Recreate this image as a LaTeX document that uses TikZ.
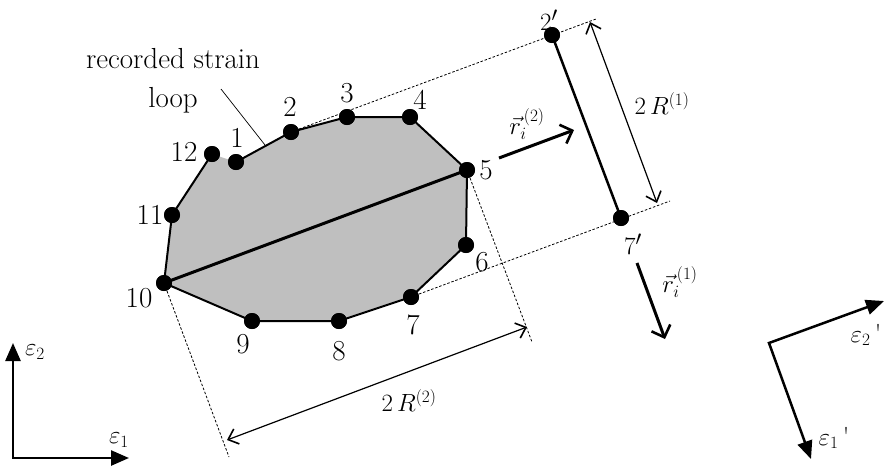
\documentclass[tikz,border=0pt]{standalone}
\usetikzlibrary{arrows.meta}
\begin{document}
\begin{tikzpicture}[x=1pt,y=-1pt,
  font=\fontsize{29}{39}\selectfont,
  dot/.style={circle,fill=black,inner sep=0pt,minimum size=16pt},
  lbl/.style={inner sep=0pt},
  outline/.style={line width=2pt,line join=round},
  guide/.style={line width=0.8pt,dash pattern=on 2.5pt off 1.8pt},
  dimline/.style={line width=1.2pt,{Straight Barb[length=9pt,width=16pt,line width=1.6pt]}-{Straight Barb[length=9pt,width=16pt,line width=1.6pt]}},
  vecarrow/.style={line width=3pt,-{Straight Barb[length=10pt,width=20pt,line width=2.6pt]}},
  axis/.style={line width=2.5pt,{Triangle[length=18pt,width=15pt]}-{Triangle[length=18pt,width=15pt]}}]
\path[use as bounding box] (0,0) rectangle (884,467);

% loop fill
\fill[black!25] (236,162) -- (291,132) -- (347,117) -- (410,117) -- (467,170) -- (466,245)
  -- (411,297) -- (339,321) -- (252,321) -- (164,283) -- (172,215) -- (212,154) -- cycle;

% dots
\node[dot] (p1) at (236,162) {};
\node[dot] (p2) at (291,132) {};
\node[dot] (p3) at (347,117) {};
\node[dot] (p4) at (410,117) {};
\node[dot] (p5) at (467,170) {};
\node[dot] (p6) at (466,245) {};
\node[dot] (p7) at (411,297) {};
\node[dot] (p8) at (339,321) {};
\node[dot] (p9) at (252,321) {};
\node[dot] (p10) at (164,283) {};
\node[dot] (p11) at (172,215) {};
\node[dot] (p12) at (212,154) {};
\node[dot] (q2) at (552,35) {};
\node[dot] (q7) at (621,218) {};

% guide lines
\coordinate (g2) at (596,19);
\coordinate (g7) at (670,201);
\coordinate (g5) at (532,342);
\coordinate (g10) at (229,457);
\draw[guide] (p2.center) -- (g2);
\draw[guide] (p7.center) -- (g7);
\draw[guide] (p5.center) -- (g5);
\draw[guide] (p10.center) -- (g10);

% outline
\draw[outline] (p1.center) -- (p2.center) -- (p3.center) -- (p4.center) -- (p5.center) -- (p6.center)
  -- (p7.center) -- (p8.center) -- (p9.center) -- (p10.center) -- (p11.center) -- (p12.center);
\draw[line width=3pt] (p10.center) -- (p5.center);
\draw[line width=2.5pt] (q2.center) -- (q7.center);

% redraw dots on top
\foreach \n in {p1,p2,p3,p4,p5,p6,p7,p8,p9,p10,p11,p12,q2,q7}
  \fill (\n.center) circle (8pt);

% point labels
\node[lbl] (l1) at (237,138) {1};
\node[lbl] (l2) at (290,107) {2};
\node[lbl] (l3) at (347,93) {3};
\node[lbl] (l4) at (420,100) {4};
\node[lbl] (l5) at (486,170) {5};
\node[lbl] (l6) at (482,262) {6};
\node[lbl] (l7) at (413,325) {7};
\node[lbl] (l8) at (339,351) {8};
\node[lbl] (l9) at (243,344) {9};
\node[lbl] (l10) at (139,298) {10};
\node[lbl] (l11) at (150,215) {11};
\node[lbl] (l12) at (184,152) {12};
\node[lbl] (lq2) at (549,20) {$2'$};
\node[lbl] (lq7) at (633,244) {$7'$};

% annotation
\node[lbl,align=center] (ann) at (173,81) {recorded strain\\loop};
\coordinate (ls) at (221,89);
\coordinate (le) at (265,145);
\draw[line width=0.7pt] (ls) -- (le);

% dimension arrows
\coordinate (d1a) at (590,22);
\coordinate (d1b) at (657,203);
\draw[dimline] (d1a) -- (d1b);
\node[lbl] (R1) at (662,104) {\fontsize{27}{30}\selectfont$2\,R^{\scriptstyle(1)}$};
\coordinate (d2a) at (227,440);
\coordinate (d2b) at (527,327);
\draw[dimline] (d2a) -- (d2b);
\node[lbl] (R2) at (409,401) {\fontsize{27}{30}\selectfont$2\,R^{\scriptstyle(2)}$};

% r vectors
\coordinate (r2s) at (499,158);
\coordinate (r2e) at (574,130);
\draw[vecarrow] (r2s) -- (r2e);
\node[lbl] (lr2) at (527,124) {\fontsize{25}{28}\selectfont$\vec{r}_i^{\,(2)}$};
\coordinate (r1s) at (637,263);
\coordinate (r1e) at (665,339);
\draw[vecarrow] (r1s) -- (r1e);
\node[lbl] (lr1) at (680,282) {\fontsize{25}{28}\selectfont$\vec{r}_i^{\,(1)}$};

% axes left
\coordinate (o1) at (13,458);
\coordinate (ay1) at (13,343);
\coordinate (ax1) at (129,458);
\draw[axis,line join=miter] (ay1) -- (o1) -- (ax1);
\node[lbl] (e2) at (35,352) {\fontsize{26}{30}\selectfont$\varepsilon_{\mathrm{2}}$};
\node[lbl] (e1) at (119,440) {\fontsize{26}{30}\selectfont$\varepsilon_{\mathrm{1}}$};

% axes right
\coordinate (o2) at (769,343);
\coordinate (ay2) at (884,301);
\coordinate (ax2) at (811,459);
\draw[axis,line join=miter] (ay2) -- (o2) -- (ax2);
\node[lbl] (e2p) at (866,335) {\fontsize{26}{30}\selectfont$\varepsilon_{\mathrm{2}}$\,\textquotesingle};
\node[lbl] (e1p) at (834,438) {\fontsize{26}{30}\selectfont$\varepsilon_{\mathrm{1}}$\,\textquotesingle};
\end{tikzpicture}
\end{document}
